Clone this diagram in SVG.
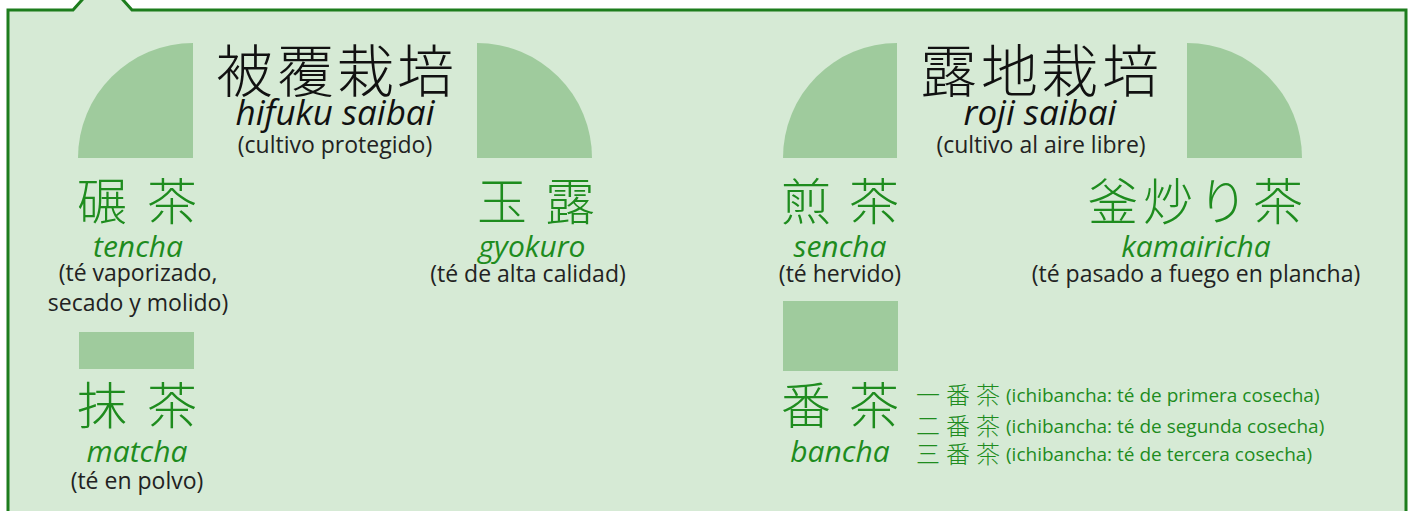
<svg xmlns="http://www.w3.org/2000/svg" width="1413" height="511" viewBox="0 0 1413 511">
<style>
.bg{fill:#d6ead5;stroke:#1d7d1d;stroke-width:3}
.sh{fill:#9fcb9d}
.kt{font-family:"Noto Sans CJK JP","Noto Sans CJK SC",sans-serif;font-weight:300;font-size:57px;fill:#111}
.kg{font-family:"Noto Sans CJK JP","Noto Sans CJK SC",sans-serif;font-weight:300;font-size:50px;fill:#1e8c1e}
.ks{font-family:"Noto Sans CJK JP","Noto Sans CJK SC",sans-serif;font-weight:300;font-size:24px;fill:#1e8c1e}
.rt{font-family:"Open Sans","Noto Sans",sans-serif;font-style:italic;font-weight:500;font-size:35px;fill:#111;text-anchor:middle}
.rg{font-family:"Open Sans","Noto Sans",sans-serif;font-style:italic;font-size:30px;fill:#1e8c1e;text-anchor:middle}
.d{font-family:"Open Sans","Noto Sans",sans-serif;font-size:23px;fill:#222;text-anchor:middle}
.l{font-family:"Open Sans","Noto Sans",sans-serif;font-size:19px;fill:#1e8c1e}
</style>
<path class="bg" d="M8,530 L8,10 L73,10 L102.5,-23 L132,10 L1406,10 L1406,530 Z"/>
<g id="shapes">
<path class="sh" d="M193,158 H78 A115,115 0 0 1 193,43 Z"/>
<path class="sh" d="M477,158 V43 A115,115 0 0 1 592,158 Z"/>
<path class="sh" d="M897,158 H783 A114,115 0 0 1 897,43 Z"/>
<path class="sh" d="M1187,158 V43 A115,115 0 0 1 1302,158 Z"/>
<rect class="sh" x="79" y="332" width="115" height="37"/>
<rect class="sh" x="783" y="301" width="115" height="70"/>
</g>
<g id="hifuku">
<text class="kt" x="216 277 337 397" y="92">被覆栽培</text>
<text class="rt" x="335" y="125">hifuku saibai</text>
<text class="d" x="335" y="153">(cultivo protegido)</text>
</g>
<g id="roji">
<text class="kt" x="920 981 1041 1102" y="92">露地栽培</text>
<text class="rt" x="1040" y="125">roji saibai</text>
<text class="d" x="1041" y="153">(cultivo al aire libre)</text>
</g>
<g id="tencha">
<text class="kg" x="77 147" y="220">碾茶</text>
<text class="rg" x="138" y="257">tencha</text>
<text class="d" x="138" y="281">(té vaporizado,</text>
<text class="d" x="138" y="311">secado y molido)</text>
</g>
<g id="gyokuro">
<text class="kg" x="477 545" y="220">玉露</text>
<text class="rg" x="532" y="257">gyokuro</text>
<text class="d" x="528" y="282">(té de alta calidad)</text>
</g>
<g id="sencha">
<text class="kg" x="781 849" y="220">煎茶</text>
<text class="rg" x="840" y="257">sencha</text>
<text class="d" x="840" y="282">(té hervido)</text>
</g>
<g id="kamairicha">
<text class="kg" x="1088 1143 1198 1253" y="220">釜炒り茶</text>
<text class="rg" x="1196" y="257">kamairicha</text>
<text class="d" x="1196" y="282">(té pasado a fuego en plancha)</text>
</g>
<g id="matcha">
<text class="kg" x="77 147" y="424">抹茶</text>
<text class="rg" x="137" y="462">matcha</text>
<text class="d" x="137" y="489">(té en polvo)</text>
</g>
<g id="bancha">
<text class="kg" x="781 849" y="424">番茶</text>
<text class="rg" x="840" y="462">bancha</text>
<text class="ks" x="916 946 976" y="404">一番茶</text>
<text class="l" x="1006" y="402">(ichibancha: té de primera cosecha)</text>
<text class="ks" x="916 946 976" y="435">二番茶</text>
<text class="l" x="1006" y="433">(ichibancha: té de segunda cosecha)</text>
<text class="ks" x="916 946 976" y="463">三番茶</text>
<text class="l" x="1006" y="461">(ichibancha: té de tercera cosecha)</text>
</g>
</svg>
